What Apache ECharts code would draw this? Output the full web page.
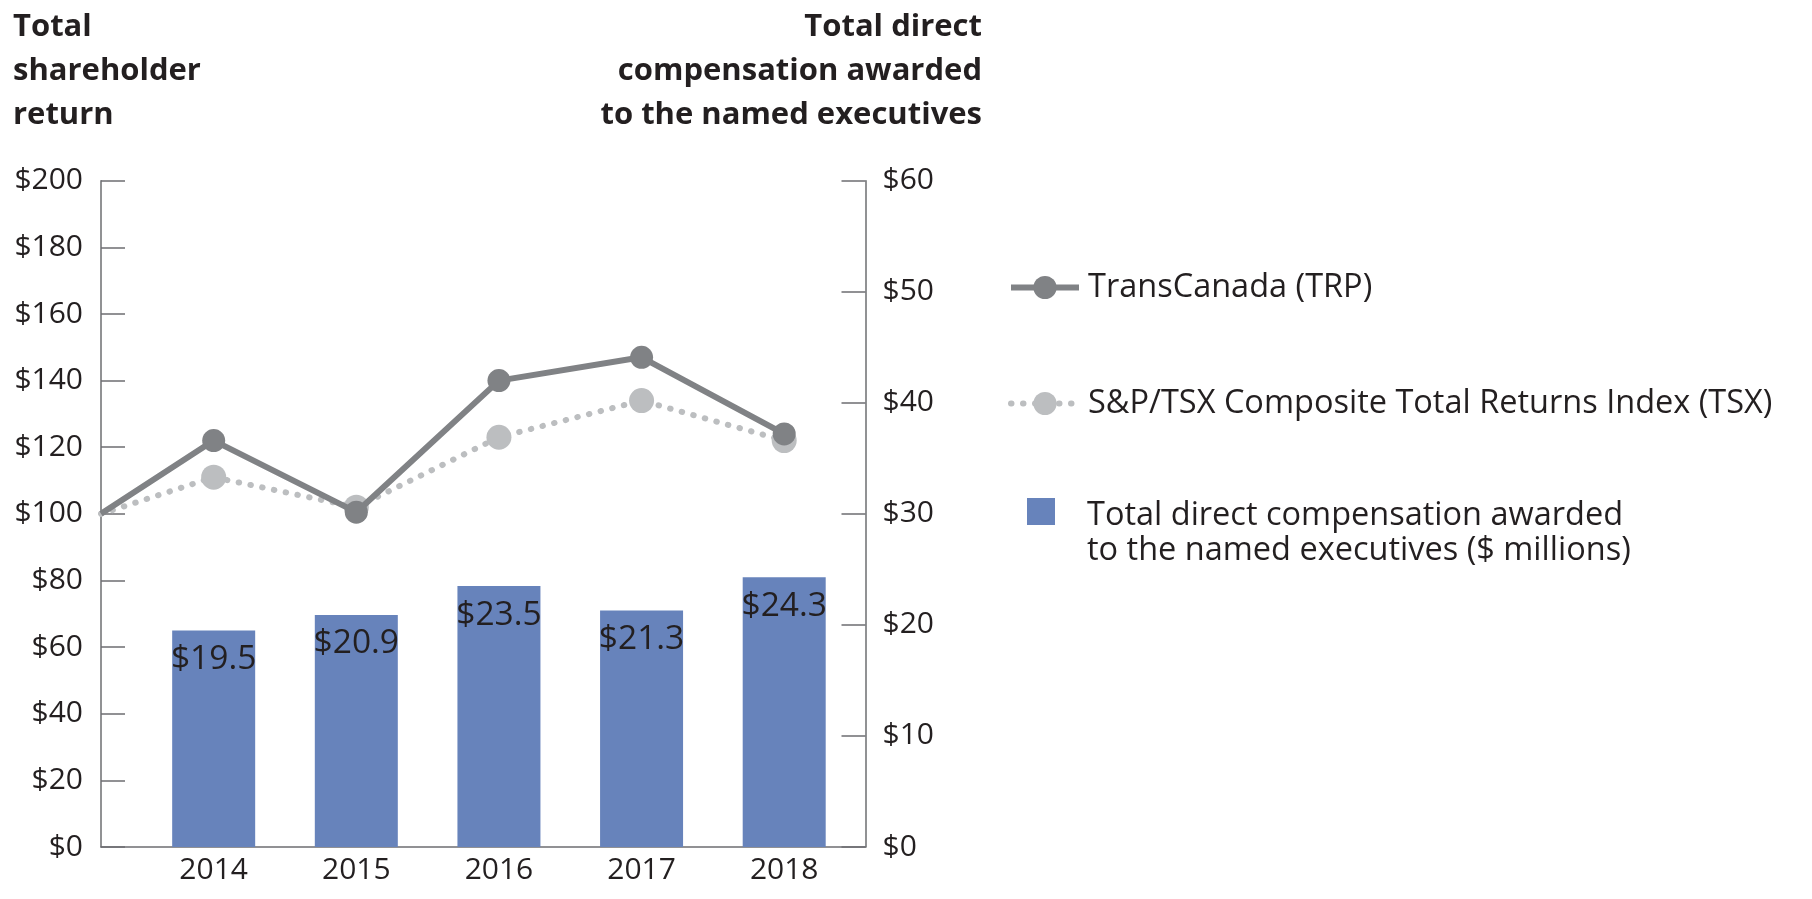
<!DOCTYPE html>
<html>
<head>
<meta charset="utf-8">
<script src="https://cdn.jsdelivr.net/npm/echarts@6/dist/echarts.min.js"></script>
<style>
  html, body { margin: 0; padding: 0; background: #ffffff; }
  #chart { width: 1812px; height: 899px; }
</style>
</head>
<body>
<div id="chart"></div>
<script>
// ---- data ----
const years = [2014, 2015, 2016, 2017, 2018];
const baseValue = 100;                       // starting TSR value at the left axis
const trpReturn = [122, 100.5, 140, 147, 124];  // TransCanada (TRP)
const tsxReturn = [111, 102, 123, 134, 122];  // S&P/TSX Composite Total Returns Index
const compensation = [19.5, 20.9, 23.5, 21.3, 24.3]; // $ millions
const leftTicks = { min: 0, max: 200, interval: 20 };
const rightTicks = { min: 0, max: 60, interval: 10 };
const xStart = 2013.21;   // left edge of the year axis (start of measurement)
const xEnd = 2018.57;     // right edge of the year axis

const leftTitle = 'Total\nshareholder\nreturn';
const rightTitle = 'Total direct\ncompensation awarded\nto the named executives';
const seriesNames = {
  trp: 'TransCanada (TRP)',
  tsx: 'S&P/TSX Composite Total Returns Index (TSX)',
  comp: 'Total direct compensation awarded\nto the named executives ($ millions)'
};

// ---- styling ----
const FONT = '"Open Sans", "Noto Sans", sans-serif';
const TXT = '#231f20';
const AXIS = '#6d6e71';

function lineData(vals) {
  const d = [{ value: [xStart, baseValue], symbol: 'none' }];
  vals.forEach((v, i) => d.push([years[i], v]));
  return d;
}

const chart = echarts.init(document.getElementById('chart'), null, { renderer: 'canvas' });

const legendText = { color: TXT, fontSize: 32.5, fontFamily: FONT, padding: [0, 0, 0, 4] };

chart.setOption({
  animation: false,
  backgroundColor: '#ffffff',
  title: [
    {
      text: leftTitle,
      left: 8, top: 0,
      textStyle: { fontFamily: FONT, fontWeight: 'bold', fontSize: 31, lineHeight: 44, color: TXT }
    }
  ],
  graphic: [
    {
      type: 'text', right: 830, top: 5,
      style: {
        text: rightTitle, textAlign: 'right',
        fontFamily: FONT, fontWeight: 'bold', fontSize: 31, lineHeight: 44, fill: TXT
      }
    }
  ],
  legend: [
    {
      data: [seriesNames.trp], left: 1003, top: 266, itemWidth: 68, itemHeight: 29,
      lineStyle: { width: 6 },
      textStyle: legendText, selectedMode: false
    },
    {
      data: [seriesNames.tsx], left: 1003, top: 382, itemWidth: 68, itemHeight: 29,
      lineStyle: { width: 6 },
      textStyle: legendText, selectedMode: false
    },
    {
      data: [{ name: seriesNames.comp, icon: 'path://M0,0L28,0L28,27L0,27Z M0,70' }],
      left: 1022, top: 493, itemWidth: 28, itemHeight: 70,
      textStyle: Object.assign({}, legendText, { lineHeight: 35, padding: [0, 0, 0, 27] }),
      selectedMode: false
    }
  ],
  grid: { left: 101, right: 946.5, top: 180.7, bottom: 52, containLabel: false },
  xAxis: {
    type: 'value', min: xStart, max: xEnd,
    axisLine: { show: true, lineStyle: { color: AXIS, width: 1.5 } },
    axisTick: { show: false },
    splitLine: { show: false },
    axisLabel: {
      customValues: years, formatter: v => String(v),
      fontSize: 30, fontFamily: FONT, color: TXT, margin: 8
    }
  },
  yAxis: [
    {
      type: 'value', position: 'left',
      min: leftTicks.min, max: leftTicks.max, interval: leftTicks.interval,
      axisLine: { show: true, lineStyle: { color: AXIS, width: 1.5 } },
      axisTick: { show: true, inside: true, length: 24, lineStyle: { color: AXIS, width: 1.5 } },
      splitLine: { show: false },
      axisLabel: { formatter: v => '$' + v, fontSize: 30, fontFamily: FONT, color: TXT, margin: 18 }
    },
    {
      type: 'value', position: 'right',
      min: rightTicks.min, max: rightTicks.max, interval: rightTicks.interval,
      axisLine: { show: true, lineStyle: { color: AXIS, width: 1.5 } },
      axisTick: { show: true, inside: true, length: 24, lineStyle: { color: AXIS, width: 1.5 } },
      splitLine: { show: false },
      axisLabel: { formatter: v => '$' + v, fontSize: 30, fontFamily: FONT, color: TXT, margin: 17 }
    }
  ],
  series: [
    {
      name: seriesNames.comp, type: 'bar', yAxisIndex: 1,
      data: years.map((y, i) => [y, compensation[i]]),
      barWidth: 83,
      itemStyle: { color: '#6783bb' },
      label: {
        show: true, position: 'insideTop', distance: 8,
        formatter: p => '$' + p.value[1].toFixed(1),
        fontSize: 33.5, fontFamily: FONT, color: TXT, lineHeight: 42
      },
      z: 1
    },
    {
      name: seriesNames.tsx, type: 'line', yAxisIndex: 0,
      data: lineData(tsxReturn),
      symbol: 'circle', symbolSize: 25,
      itemStyle: { color: '#bcbec0' },
      lineStyle: { color: '#bcbec0', width: 6, type: [0.5, 11.5], cap: 'round' },
      z: 3
    },
    {
      name: seriesNames.trp, type: 'line', yAxisIndex: 0,
      data: lineData(trpReturn),
      symbol: 'circle', symbolSize: 23,
      itemStyle: { color: '#808285' },
      lineStyle: { color: '#808285', width: 6 },
      z: 4
    }
  ]
});
</script>
</body>
</html>
